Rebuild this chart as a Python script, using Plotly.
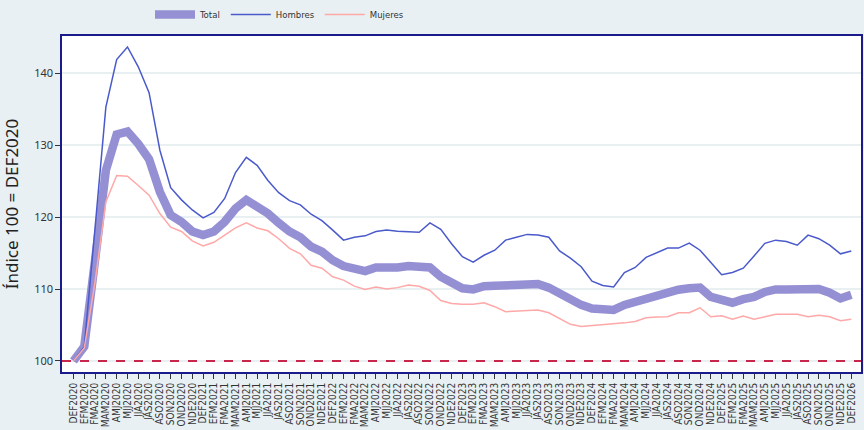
import plotly.graph_objects as go

periods = ["DEF", "EFM", "FMA", "MAM", "AMJ", "MJJ", "JJA", "JAS", "ASO", "SON", "OND", "NDE"]
labels = ["DEF2020"]
for yr in range(2020, 2026):
    for p in periods[1:]:
        labels.append(f"{p}{yr}")
    labels.append(f"DEF{yr+1}")

total = [100.0, 102.0, 114.0, 126.5, 131.5, 131.9, 130.2, 128.05, 123.5, 120.3,
         119.35, 118.0, 117.5, 118.0, 119.35, 121.2, 122.4, 121.6, 120.5, 119.2,
         118.0, 117.2, 115.9, 115.2, 114.0, 113.2, 112.7, 112.5, 113.0, 112.9,
         113.0, 113.2, 113.1, 113.0, 111.7, 110.8, 110.1, 109.95, 110.4, 110.45,
         110.55, 110.55, 110.7, 110.7, 110.2, 109.3, 108.5, 107.8, 107.3, 107.2,
         107.1, 107.8, 108.2, 108.9, 109.2, 109.5, 109.9, 110.1, 110.2, 108.9,
         108.4, 108.1, 108.6, 108.9, 109.6, 109.95, 109.95, 109.9, 110.1, 110.0,
         109.5, 108.7, 109.2]
hombres = [100.0, 102.0, 118.5, 135.3, 141.9, 143.65, 140.9, 137.3, 129.3, 124.1,
           122.4, 121.0, 119.9, 120.65, 122.6, 126.2, 128.3, 127.2, 125.1, 123.4,
           122.3, 121.7, 120.4, 119.5, 118.2, 116.8, 117.2, 117.4, 118.0, 118.2,
           118.05, 118.0, 117.9, 119.2, 118.3, 116.3, 114.5, 113.75, 114.7, 115.4,
           116.8, 117.2, 117.6, 117.5, 117.2, 115.3, 114.3, 113.1, 111.1, 110.5,
           110.3, 112.3, 113.0, 114.4, 115.0, 115.7, 115.7, 116.4, 115.4, 113.65,
           112.0, 112.3, 112.9, 114.6, 116.35, 116.8, 116.6, 116.1, 117.5, 117.0,
           116.1, 114.9, 115.3]
mujeres = [100.0, 101.8, 111.0, 122.1, 125.8, 125.7, 124.4, 123.05, 120.5, 118.6,
           118.0, 116.7, 116.0, 116.5, 117.5, 118.5, 119.2, 118.5, 118.1, 117.0,
           115.65, 114.9, 113.3, 112.9, 111.7, 111.25, 110.4, 109.95, 110.3, 110.0,
           110.2, 110.55, 110.4, 109.8, 108.4, 108.0, 107.9, 107.9, 108.1, 107.55,
           106.85, 106.95, 107.1, 107.1, 106.7, 105.9, 105.1, 104.8, 104.9, 105.1,
           105.2, 105.3, 105.5, 106.0, 106.1, 106.15, 106.7, 106.7, 107.4, 106.15,
           106.3, 105.8, 106.25, 105.8, 106.15, 106.5, 106.5, 106.5, 106.15, 106.35,
           106.15, 105.6, 105.8]
baseline = 100

x = list(range(len(labels)))
font = "DejaVu Sans Condensed, Noto Sans, sans-serif"

fig = go.Figure()
fig.add_trace(go.Scatter(x=x, y=total, mode="lines", name="Total",
                         line=dict(color="#9590d3", width=8.5)))
fig.add_trace(go.Scatter(x=x, y=hombres, mode="lines", name="Hombres",
                         line=dict(color="#4a5acb", width=1.5)))
fig.add_trace(go.Scatter(x=x, y=mujeres, mode="lines", name="Mujeres",
                         line=dict(color="#ffa8a8", width=1.5)))
fig.add_hline(y=baseline, line=dict(color="#c9264c", width=2, dash="dash"), layer="above")

fig.update_layout(
    width=864, height=430,
    margin=dict(l=62, r=3, t=36, b=58),
    paper_bgcolor="#e8f0f3",
    plot_bgcolor="white",
    font=dict(family=font, size=10, color="#333333"),
    showlegend=True,
    legend=dict(orientation="h", x=150 / 864, xanchor="left", y=1.0, yanchor="top",
                yref="container", xref="container", bgcolor="rgba(0,0,0,0)",
                itemwidth=40,
                font=dict(size=9.5, color="#333333")),
    xaxis=dict(
        tickmode="array", tickvals=x, ticktext=labels, tickangle=-90,
        range=[-1.06, 72.9], showgrid=False, zeroline=False, automargin=False,
        showline=True, mirror=True, linecolor="#1a1a8a", linewidth=1.5,
        ticks="outside", ticklen=5, tickcolor="#333333",
        tickfont=dict(size=10, color="#333333"),
    ),
    yaxis=dict(
        range=[98.47, 145.18], tickvals=[100, 110, 120, 130, 140], automargin=False,
        showgrid=True, gridcolor="#e8f0f2", gridwidth=1.5, zeroline=False,
        showline=True, mirror=True, linecolor="#1a1a8a", linewidth=1.5,
        ticks="outside", ticklen=5, tickcolor="#333333",
        tickfont=dict(family="Noto Sans, sans-serif", size=11, color="#333333"),
        title=dict(text="Índice 100 = DEF2020",
                   font=dict(family="Noto Sans, sans-serif", size=17, color="#222222"),
                   standoff=12),
    ),
)
fig.write_html("out.html", config={"displayModeBar": False},
               post_script="document.body.style.margin='0';")
